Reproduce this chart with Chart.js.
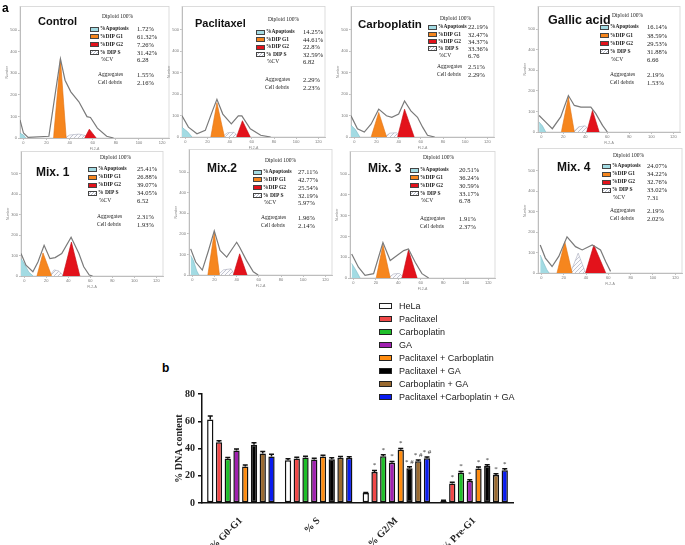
<!DOCTYPE html>
<html><head><meta charset="utf-8">
<script src="https://cdn.jsdelivr.net/npm/chart.js@4.4.1/dist/chart.umd.min.js"></script>
<style>
html,body{margin:0;padding:0;background:#fff;}
#wrap{position:relative;width:685px;height:545px;overflow:hidden;background:#fff;}
canvas{position:absolute;}
.ttl{position:absolute;font-family:'Liberation Sans Narrow','Liberation Sans',Arial,sans-serif;font-weight:bold;color:#111;white-space:nowrap;line-height:1;}
.tx{position:absolute;font-family:'Liberation Serif','Times New Roman',serif;color:#222;white-space:nowrap;line-height:1;}
.sw{position:absolute;width:9px;height:5px;border:0.8px solid #444;box-sizing:border-box;}
.lg{position:absolute;font-family:'Liberation Sans',Arial,sans-serif;font-size:9px;color:#222;white-space:nowrap;line-height:1;}
.lb{position:absolute;width:13px;height:6px;border:1.5px solid #222;box-sizing:border-box;}
.pl{position:absolute;font-family:'Liberation Sans',Arial,sans-serif;font-weight:bold;color:#000;line-height:1;}
</style></head>
<body><div id="wrap"></div>
<script>
// ---------- DATA : panel a (cell-cycle histograms, FL2-A vs Number) ----------
const panelNames = ['Control','Paclitaxel','Carboplatin','Gallic acid','Mix. 1','Mix.2','Mix. 3','Mix. 4'];
const apoptosisTxt = ['1.72%','14.25%','22.19%','16.14%','25.41%','27.11%','20.51%','24.07%'];
const g1Txt = ['61.32%','44.61%','32.47%','38.59%','26.88%','42.77%','36.24%','34.22%'];
const g2Txt = ['7.26%','22.8%','34.37%','29.53%','39.07%','25.54%','30.59%','32.76%'];
const sTxt = ['31.42%','32.59%','33.36%','31.88%','34.05%','32.19%','33.17%','33.02%'];
const cvTxt = ['6.28','6.82','6.76','6.66','6.52','5.97%','6.78','7.31'];
const aggTxt = ['1.55%','2.29%','2.51%','2.19%','2.31%','1.96%','1.91%','2.19%'];
const debrisTxt = ['2.16%','2.23%','2.29%','1.53%','1.93%','2.14%','2.37%','2.02%'];
const xTicksA = [0,20,40,60,80,100,120];
const yTicksA = [0,100,200,300,400,500];

const ctrlApo = [[-3,22],[0,14],[2,0]];
const ctrlG1 = [[26,0],[32,367],[37,0]];
const ctrlS = [[36,0],[40,14],[48,18],[55,10],[58,0]];
const ctrlG2 = [[53,0],[57,41],[63,0]];
const ctrlFit = [[-3,84],[0,23],[4,3],[22,8],[32,367],[36,268],[41,214],[48,168],[55,99],[58,95],[64,46],[72,8],[78,0]];

const pacApo = [[-3,45],[2,25],[6,0]];
const pacG1 = [[23,0],[28.5,160],[35.3,0]];
const pacS = [[33,0],[38,20],[44,22],[48,0]];
const pacG2 = [[46.2,0],[51.5,76],[58.6,0]];
const pacFit = [[-3,99],[2.8,46],[10.5,15],[18,31],[24.5,122],[28.5,176],[33.8,107],[41.5,61],[47.8,99],[51,99],[58.6,38],[68,8],[77,0]];

const carApo = [[-3,55],[1,35],[5,0]];
const carG1 = [[15.2,0],[22,115],[29.1,0]];
const carS = [[27,0],[32,18],[38,20],[42,0]];
const carG2 = [[39,0],[45.3,130],[54,0]];
const carFit = [[-3,99],[2.8,38],[9,23],[15.2,61],[22,130],[29,99],[33.8,92],[40,107],[45.3,168],[51,122],[57,92],[61.6,46],[66,8],[72.5,0]];

const galApo = [[-2,48],[1,30],[4,0]];
const galG1 = [[18.2,0],[24.6,169],[30,0]];
const galS = [[29,0],[34,25],[40,30],[44,0]];
const galG2 = [[41.3,0],[46.5,105],[52.6,0]];
const galFit = [[-2,80],[4,48],[10,16],[17.6,73],[24.6,177],[30,129],[36,121],[45,121],[49.5,89],[55.6,32],[60,0]];

const m1Apo = [[-3,85],[0,60],[4,20],[8,0]];
const m1G1 = [[11.5,0],[17,113],[24.8,0]];
const m1S = [[23,0],[27,30],[31,25],[36,0]];
const m1G2 = [[35,0],[42.8,166],[50.5,0]];
const m1Fit = [[-3,110],[1.5,53],[7.8,21],[12.4,69],[18,150],[23.3,85],[28,90],[34,110],[42.5,190],[49.6,110],[54,45],[59,5],[62,0]];

const m2Apo = [[-1.5,95],[1,70],[4,20],[6,0]];
const m2G1 = [[14,0],[19.8,206],[24.5,0]];
const m2S = [[23,0],[28,25],[35,30],[38,0]];
const m2G2 = [[37,0],[42.7,103],[49.4,0]];
const m2Fit = [[-1.5,127],[3,63],[9,24],[14.6,119],[19.8,214],[25,119],[31,87],[40,159],[42.7,135],[48.8,71],[55,16],[59.4,0]];

const m3Apo = [[-1.5,70],[2,40],[6,0]];
const m3G1 = [[20.3,0],[26.3,160],[32.8,0]];
const m3S = [[31,0],[36,20],[41,22],[45,0]];
const m3G2 = [[43.3,0],[49,135],[56.7,0]];
const m3Fit = [[-1.5,116],[4.5,52],[10.4,13],[18,21],[26.3,171],[32.8,84],[38.8,108],[44.8,132],[49,140],[55,76],[61,21],[67,0]];

const m4Apo = [[-1,88],[2,50],[5,15],[7,0]];
const m4G1 = [[14,0],[21,153],[27.6,0]];
const m4S = [[26,0],[33,97],[39.6,0]];
const m4G2 = [[39.6,0],[47,137],[57.7,0]];
const m4Fit = [[-1,137],[3.6,73],[9.6,32],[15.6,81],[23,177],[30.6,129],[36.6,113],[45.6,137],[53,113],[57.6,56],[62,8]];

// ---------- DATA : panel b (bar chart) ----------
const phases = ['% G0-G1','% S','% G2/M','% Pre-G1'];
const treatments = ['HeLa','Paclitaxel','Carboplatin','GA','Paclitaxel + Carboplatin','Paclitaxel + GA','Carboplatin + GA','Paclitaxel +Carboplatin + GA'];
const g0g1 = [61.32,44.61,32.47,38.59,26.88,42.77,36.24,34.22];
const sPhase = [31.42,32.59,33.36,31.88,34.05,32.19,33.17,33.02];
const g2m = [7.26,22.8,34.37,29.53,39.07,25.54,30.59,32.76];
const preG1 = [1.72,14.25,22.19,16.14,25.41,27.11,20.51,24.07];
const errG0G1 = [2.5,1,1,1,1,1.5,1.5,1.5];
const errS = [1,1,1,1,1,1,1,1];
const errG2M = [0.5,1,1,1,1,1,1,1];
const errPreG1 = [0.3,1,1,1,1,1,1,1];
const marksG0G1 = ['','','','','','','',''];
const marksS = ['','','','','','','',''];
const marksG2M = ['','*','*','*','*','* #','* #','* #'];
const marksPreG1 = ['','*','*','*','*','*','*','*'];
const yTicksB = [0,20,40,60,80];

// ---------- LAYOUT (positions / styles only) ----------
const panelData = [
  [ctrlApo,ctrlG1,ctrlS,ctrlG2,ctrlFit],[pacApo,pacG1,pacS,pacG2,pacFit],
  [carApo,carG1,carS,carG2,carFit],[galApo,galG1,galS,galG2,galFit],
  [m1Apo,m1G1,m1S,m1G2,m1Fit],[m2Apo,m2G1,m2S,m2G2,m2Fit],
  [m3Apo,m3G1,m3S,m3G2,m3Fit],[m4Apo,m4G1,m4S,m4G2,m4Fit]];
const boxes = [
  {l:20,b:138,w:149,h:133},{l:182,b:137,w:143,h:132},{l:351,b:137,w:143,h:132},{l:538,b:132,w:142,h:127},
  {l:21,b:276,w:142,h:126},{l:189,b:275,w:143,h:127},{l:350,b:278,w:145,h:128},{l:538,b:273,w:144,h:126}];
const txtPos = [
  {tx:38,ty:21,ts:11,sw:90,ry:29,dy:7.8,vx:137,dx:102,dyp:17,ax:98,ay:75},
  {tx:195,ty:23,ts:11,sw:256,ry:32,dy:7.5,vx:303,dx:268,dyp:20,ax:265,ay:80},
  {tx:358,ty:25,ts:11.5,sw:428,ry:27,dy:7.3,vx:468,dx:440,dyp:19,ax:437,ay:67},
  {tx:548,ty:20,ts:12.5,sw:600,ry:27,dy:8.3,vx:647,dx:612,dyp:16,ax:610,ay:75},
  {tx:36,ty:172,ts:12,sw:88,ry:169,dy:8,vx:137,dx:100,dyp:158,ax:97,ay:217},
  {tx:207,ty:168,ts:12,sw:253,ry:172,dy:7.8,vx:298,dx:265,dyp:161,ax:261,ay:218},
  {tx:368,ty:168,ts:12,sw:410,ry:170,dy:7.8,vx:459,dx:423,dyp:158,ax:420,ay:219},
  {tx:557,ty:167,ts:12,sw:602,ry:166,dy:8,vx:647,dx:613,dyp:156,ax:610,ay:211}];

const wrap = document.getElementById('wrap');
function addDiv(cls, txt, x, y, size, extra){
  const d = document.createElement('div'); d.className = cls; d.textContent = txt;
  d.style.left = x+'px'; d.style.top = (y - size/2)+'px'; d.style.fontSize = size+'px';
  if (extra) Object.assign(d.style, extra);
  wrap.appendChild(d); return d;
}
function hatchPattern(){
  const pc = document.createElement('canvas'); pc.width = 4; pc.height = 4;
  const g = pc.getContext('2d'); g.fillStyle = '#fbfbfd'; g.fillRect(0,0,4,4);
  g.strokeStyle = '#a9adbd'; g.lineWidth = 0.7; g.beginPath(); g.moveTo(0,4); g.lineTo(4,0); g.stroke();
  return g.createPattern(pc,'repeat');
}
const hatch = hatchPattern();
const boxPlugin = {id:'box', beforeDatasetsDraw(c){const a=c.chartArea,x=c.ctx;x.save();x.strokeStyle='#d4d4d4';x.lineWidth=0.8;x.strokeRect(a.left,a.top,a.right-a.left,a.bottom-a.top);x.restore();}};
const pts = arr => arr.map(p => ({x:p[0], y:p[1]}));

panelNames.forEach((name, i) => {
  const bx = boxes[i], padL = 15, padB = 13, padT = 2, padR = 3;
  const c = document.createElement('canvas');
  const W = bx.w + padL + padR, H = bx.h + padT + padB;
  c.width = W; c.height = H; c.style.width = W+'px'; c.style.height = H+'px';
  c.style.left = (bx.l - padL)+'px'; c.style.top = (bx.b - bx.h - padT)+'px';
  wrap.appendChild(c);
  const [apo, g1, s, g2, fit] = panelData[i];
  const fillDs = (d, bg, bc, ord) => ({data:pts(d), fill:'origin', backgroundColor:bg, borderColor:bc, borderWidth:0.6, pointRadius:0, tension:0, order:ord});
  new Chart(c, {type:'line', plugins:[boxPlugin],
    data:{datasets:[
      {data:pts(fit), fill:false, borderColor:'#7a7a7a', borderWidth:1.2, pointRadius:0, tension:0, order:0},
      fillDs(apo,'#a3dbe3','#79b9c4',3), fillDs(s,hatch,'#a9adbd',4), fillDs(g1,'#f6861e','#e07010',2), fillDs(g2,'#e3121b','#c00a10',2)]},
    options:{responsive:false, animation:false, events:[],
      layout:{padding:{top:padT,right:padR,left:0,bottom:0}},
      plugins:{legend:{display:false}, tooltip:{enabled:false}},
      scales:{
        x:{type:'linear', min:-3, max:126, afterFit(sc){sc.height = padB;},
          afterBuildTicks(sc){sc.ticks = xTicksA.map(v=>({value:v}));},
          ticks:{font:{size:4}, color:'#777', padding:0, maxRotation:0, autoSkip:false},
          grid:{drawOnChartArea:false, tickLength:2, color:'#999', lineWidth:0.6}, border:{color:'#999', width:0.8},
          title:{display:true, text:'FL2-A', font:{size:3.5}, color:'#888', padding:0}},
        y:{min:0, max:610, afterFit(sc){sc.width = padL;},
          afterBuildTicks(sc){sc.ticks = yTicksA.map(v=>({value:v}));},
          ticks:{font:{size:4}, color:'#777', padding:1, autoSkip:false},
          grid:{drawOnChartArea:false, tickLength:2, color:'#999', lineWidth:0.6}, border:{color:'#999', width:0.8},
          title:{display:true, text:'Number', font:{size:3.5}, color:'#888', padding:0}}
      }}});
  const t = txtPos[i];
  addDiv('ttl', name, t.tx, t.ty, t.ts);
  addDiv('tx', 'Diploid 100%', t.dx, t.dyp, 5.5);
  const rows = [['%Apoptosis',apoptosisTxt[i],'#a3dbe3'],['%DIP G1',g1Txt[i],'#f6861e'],['%DIP G2',g2Txt[i],'#e3121b'],['% DIP S',sTxt[i],'hatch']];
  rows.forEach((r, k) => {
    const y = t.ry + k*t.dy;
    const sw = document.createElement('div'); sw.className = 'sw';
    sw.style.left = t.sw+'px'; sw.style.top = (y-2.5)+'px';
    if (r[2] === 'hatch') sw.style.background = 'repeating-linear-gradient(135deg,#fff 0 1px,#b8bccb 1px 2px)'; else sw.style.background = r[2];
    wrap.appendChild(sw);
    addDiv('tx', r[0], t.sw+10, y, 5.5, {fontWeight:'bold'});
    addDiv('tx', r[1], t.vx, y+0.5, 6.5);
  });
  const ycv = t.ry + 4*t.dy;
  addDiv('tx', '%CV', t.sw+11, ycv, 5.5);
  addDiv('tx', cvTxt[i], t.vx, ycv+0.5, 6.5);
  addDiv('tx', 'Aggregates', t.ax, t.ay, 5.5);
  addDiv('tx', aggTxt[i], t.vx, t.ay+0.5, 6.5);
  addDiv('tx', 'Cell debris', t.ax, t.ay+8, 5.5);
  addDiv('tx', debrisTxt[i], t.vx, t.ay+8.5, 6.5);
});
addDiv('pl', 'a', 2, 8, 12);
addDiv('pl', 'b', 162, 368, 12);

// ---------- panel b chart ----------
const barColors = ['#ffffff','#f04848','#1fbf2a','#a020b0','#ff8c10','#000000','#9a6a30','#0a1cf0'];
const errs = [errG0G1, errS, errG2M, errPreG1];
const marks = [marksG0G1, marksS, marksG2M, marksPreG1];
const serif = "'Liberation Serif','Times New Roman',serif";
const errPlugin = {id:'err', afterDatasetsDraw(chart){
  const ctx = chart.ctx, ys = chart.scales.y;
  chart.data.datasets.forEach((ds, i) => {
    chart.getDatasetMeta(i).data.forEach((el, j) => {
      const yTop = ys.getPixelForValue(ds.data[j] + errs[j][i]);
      ctx.save(); ctx.strokeStyle = '#111'; ctx.lineWidth = 1.5;
      ctx.beginPath(); ctx.moveTo(el.x, el.y); ctx.lineTo(el.x, yTop);
      ctx.moveTo(el.x-2.5, yTop); ctx.lineTo(el.x+2.5, yTop); ctx.stroke();
      const m = marks[j][i];
      if (m) { ctx.fillStyle = '#333'; ctx.font = '7px ' + serif; ctx.textAlign = 'center'; ctx.textBaseline = 'bottom'; ctx.fillText(m, el.x, yTop - 1.5); }
      ctx.restore();
    });
  });
}};
const bc = document.createElement('canvas');
bc.width = 375; bc.height = 160; bc.style.width = '375px'; bc.style.height = '160px';
bc.style.left = '150px'; bc.style.top = '385px';
wrap.appendChild(bc);
new Chart(bc, {type:'bar', plugins:[errPlugin],
  data:{labels:phases, datasets:treatments.map((t, i) => ({label:t,
    data:[g0g1[i], sPhase[i], g2m[i], preG1[i]], backgroundColor:barColors[i], borderColor:'#111', borderWidth:1.5, borderSkipped:false,
    categoryPercentage:0.9, barPercentage:0.72}))},
  options:{responsive:false, animation:false, events:[],
    layout:{padding:{left:23, top:7, right:12, bottom:0}},
    plugins:{legend:{display:false}, tooltip:{enabled:false}},
    scales:{
      x:{grid:{display:false}, border:{color:'#111', width:1.5},
        ticks:{minRotation:45, maxRotation:45, font:{family:serif, weight:'bold', size:10}, color:'#222', padding:4},
        afterFit(s){s.height = 42;}},
      y:{min:0, max:80, afterBuildTicks(s){s.ticks = yTicksB.map(v=>({value:v}));},
        ticks:{font:{family:serif, weight:'bold', size:10}, color:'#222', padding:3},
        grid:{drawOnChartArea:false, drawTicks:true, tickLength:4, color:'#111', lineWidth:1.5}, border:{color:'#111', width:1.5},
        title:{display:true, text:'% DNA content', font:{family:serif, weight:'bold', size:10}, color:'#222', padding:{top:0,bottom:4}},
        afterFit(s){s.width = 29;}}
    }}});
treatments.forEach((t, i) => {
  const y = 306 + i*13;
  const b = document.createElement('div'); b.className = 'lb';
  b.style.left = '379px'; b.style.top = (y-3)+'px'; b.style.background = barColors[i];
  wrap.appendChild(b);
  addDiv('lg', t, 399, y, 9);
});
</script></body></html>
